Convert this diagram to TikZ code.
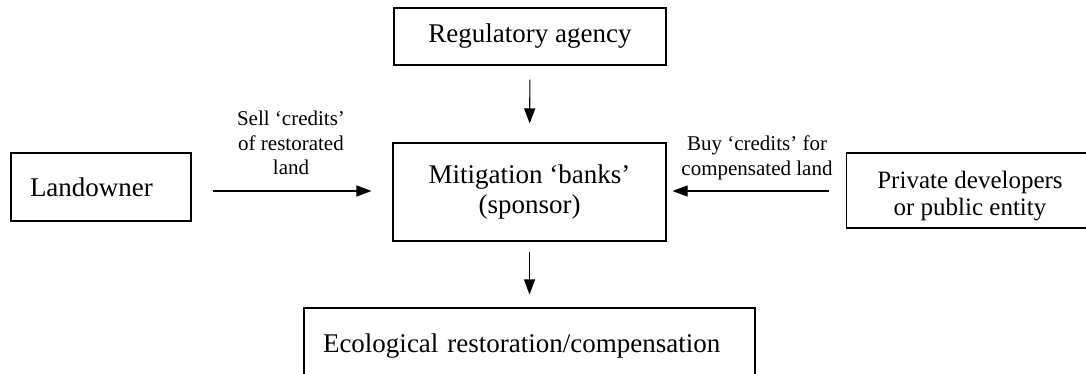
\documentclass[tikz,border=0pt]{standalone}
\usepackage{fontspec}
\setmainfont{Liberation Serif}
\usetikzlibrary{arrows.meta}
\newcommand\boxfont{\fontsize{27pt}{30pt}\selectfont}
\newcommand\devfont{\fontsize{25pt}{27pt}\selectfont}
\newcommand\lblfont{\fontsize{21pt}{24.5pt}\selectfont}
\begin{document}
\begin{tikzpicture}[x=1pt,y=-1pt,
  box/.style={draw, line width=1.1pt, inner sep=0pt, font=\boxfont, align=center},
  lbl/.style={font=\lblfont, align=center, inner sep=0pt},
  arr/.style={line width=1.1pt, -{Triangle[length=15pt,width=11pt]}}]
\useasboundingbox (0,0) rectangle (1086,374);
\clip (0,0) rectangle (1086,374);

% boxes
\node[box, minimum width=272pt, minimum height=57pt] (reg) at (530,36.5) {Regulatory agency};
\node[box, minimum width=273pt, minimum height=98pt] (bank) at (529.5,192) {Mitigation ‘banks’\\(sponsor)};
\node[box, minimum height=68pt, text width=142pt, inner xsep=19pt, align=left] (land) at (101,187) {Landowner};
% this box runs past the right edge of the page
\node[box, anchor=west, minimum width=270pt, minimum height=75pt] (dev) at (846,190.5) {};
\node[lbl, font=\devfont] (devtext) at (970,196) {Private developers\\or public entity};
\node[box, minimum height=76pt, text width=413pt, inner xsep=19pt, align=left] (eco) at (529.5,346) {Ecological restoration/compensation};

% arrow labels
\node[lbl] (sell) at (291,143) {Sell ‘credits’\\of restorated\\land};
\node[lbl] (buy) at (757,158) {Buy ‘credits’ for\\compensated land};

% connectors
\coordinate (ya) at (0,191);
\draw[arr, shorten <=21pt, shorten >=21pt] (land.east |- ya) -- (bank.west |- ya);
\draw[arr, shorten <=17pt, shorten >=6pt] (dev.west |- ya) -- (bank.east |- ya);
\draw[arr, shorten <=14pt, shorten >=19pt] (reg.south) -- (bank.north);
\draw[arr, shorten <=10pt, shorten >=13pt] (bank.south) -- (eco.north);
\end{tikzpicture}
\end{document}
